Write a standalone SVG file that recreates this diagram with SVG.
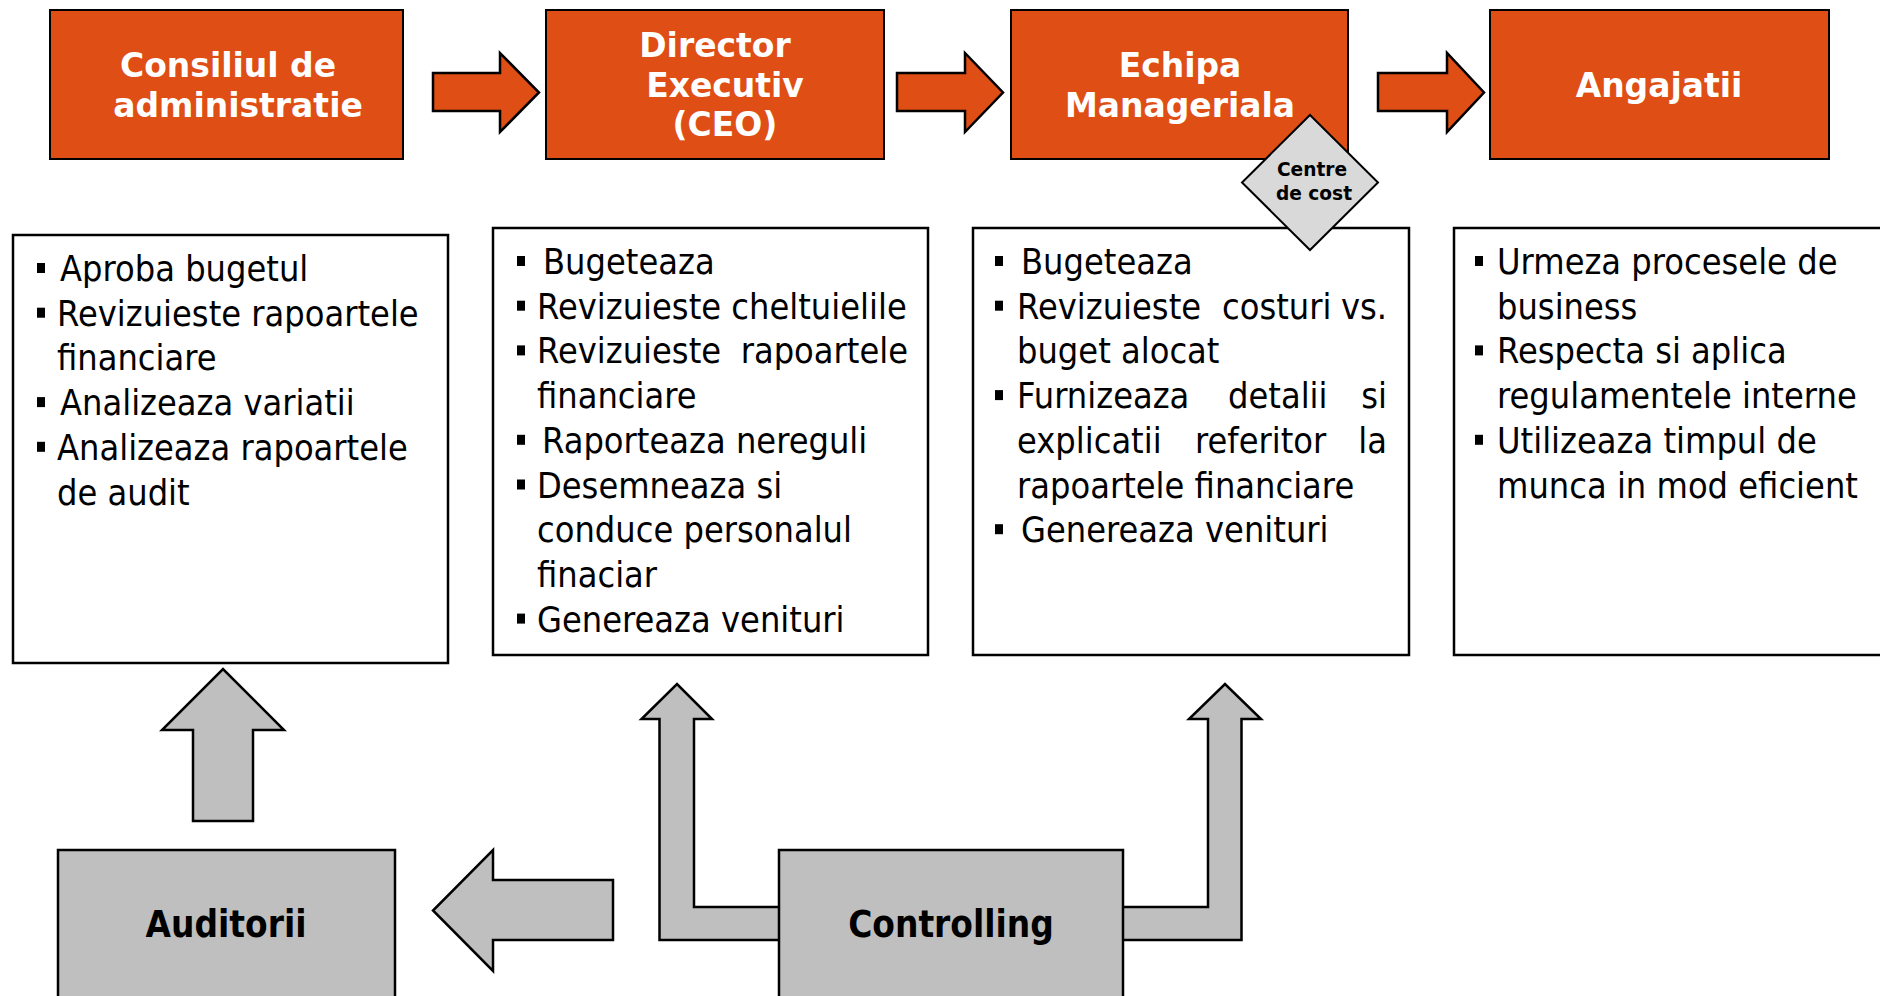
<svg xmlns="http://www.w3.org/2000/svg" width="1880" height="996" viewBox="0 0 1880 996">
<style>
.hdr{fill:#DE4E15;stroke:#000;stroke-width:2}
.htxt{font-family:"DejaVu Sans",Verdana,sans-serif;font-weight:bold;font-size:34px;fill:#fff;text-anchor:middle}
.box{fill:#fff;stroke:#000;stroke-width:2.5}
.txt{font-family:"DejaVu Sans",Verdana,sans-serif;font-size:36px;fill:#000}
.end{text-anchor:end}
.bul{fill:#000}
.oarr{fill:#DE4E15;stroke:#000;stroke-width:2.5;stroke-linejoin:miter}
.garr{fill:#BFBFBF;stroke:#000;stroke-width:2.5}
.gbox{fill:#BFBFBF;stroke:#000;stroke-width:2.5}
.gtxt{font-family:"DejaVu Sans",Verdana,sans-serif;font-weight:bold;font-size:37px;fill:#000;text-anchor:middle}
.dia{fill:#D9D9D9;stroke:#000;stroke-width:2}
.dtxt{font-family:"DejaVu Sans",Verdana,sans-serif;font-weight:bold;font-size:20px;fill:#000;text-anchor:middle}
</style>
<rect width="1880" height="996" fill="#fff"/>

<g id="connectors">
  <path class="oarr" d="M433,73 H500 V53 L539,92.5 L500,132 V111 H433 Z"/>
  <path class="oarr" d="M897,73 H965 V53 L1003,92.5 L965,132 V111 H897 Z"/>
  <path class="oarr" d="M1378,73 H1447 V53 L1484,92.5 L1447,132 V111 H1378 Z"/>
  <path class="garr" d="M193,821 V730 H162 L223,669 L284,730 H253 V821 Z"/>
  <path class="garr" d="M613,880 H493 V850 L433,910.5 L493,971 V940 H613 Z"/>
  <path class="garr" d="M780,907 H694 V719 H712 L677,684 L641.5,719 H659.5 V940 H780 Z"/>
  <path class="garr" d="M1122,907 H1208 V719 H1189 L1225,684 L1261,719 H1241.5 V940 H1122 Z"/>
</g>

<g id="consiliu">
  <rect class="hdr" x="50" y="10" width="353" height="149"/>
  <text class="htxt" transform="translate(228 77) scale(.97 1)">Consiliul de</text>
  <text class="htxt" transform="translate(238 117) scale(.97 1)">administratie</text>
</g>
<g id="director">
  <rect class="hdr" x="546" y="10" width="338" height="149"/>
  <text class="htxt" transform="translate(715 57) scale(.97 1)">Director</text>
  <text class="htxt" transform="translate(725 97) scale(.97 1)">Executiv</text>
  <text class="htxt" transform="translate(725 136) scale(.97 1)">(CEO)</text>
</g>
<g id="echipa">
  <rect class="hdr" x="1011" y="10" width="337" height="149"/>
  <text class="htxt" transform="translate(1180 77) scale(.97 1)">Echipa</text>
  <text class="htxt" transform="translate(1180 117) scale(.97 1)">Manageriala</text>
</g>
<g id="angajatii">
  <rect class="hdr" x="1490" y="10" width="339" height="149"/>
  <text class="htxt" transform="translate(1659 97) scale(.97 1)">Angajatii</text>
</g>

<g id="lista-consiliu">
  <rect class="box" x="13" y="235" width="435" height="428"/>
  <rect class="bul" x="37" y="263" width="8" height="10"/>
  <rect class="bul" x="37" y="307.7" width="8" height="10"/>
  <rect class="bul" x="37" y="397.1" width="8" height="10"/>
  <rect class="bul" x="37" y="441.8" width="8" height="10"/>
  <text class="txt" transform="translate(60 281) scale(.895 1)">Aproba bugetul</text>
  <text class="txt" transform="translate(57 325.7) scale(.895 1)">Revizuieste rapoartele</text>
  <text class="txt" transform="translate(57 370.4) scale(.895 1)">financiare</text>
  <text class="txt" transform="translate(60 415.1) scale(.895 1)">Analizeaza variatii</text>
  <text class="txt" transform="translate(57 459.8) scale(.895 1)">Analizeaza rapoartele</text>
  <text class="txt" transform="translate(57 504.5) scale(.895 1)">de audit</text>
</g>

<g id="lista-director">
  <rect class="box" x="493" y="228" width="435" height="427"/>
  <rect class="bul" x="517" y="256" width="8" height="10"/>
  <rect class="bul" x="517" y="300.7" width="8" height="10"/>
  <rect class="bul" x="517" y="345.4" width="8" height="10"/>
  <rect class="bul" x="517" y="434.8" width="8" height="10"/>
  <rect class="bul" x="517" y="479.5" width="8" height="10"/>
  <rect class="bul" x="517" y="613.6" width="8" height="10"/>
  <text class="txt" transform="translate(543 274) scale(.895 1)">Bugeteaza</text>
  <text class="txt" transform="translate(537 318.7) scale(.895 1)">Revizuieste cheltuielile</text>
  <text class="txt" transform="translate(537 363.4) scale(.895 1)">Revizuieste</text>
  <text class="txt end" transform="translate(908 363.4) scale(.895 1)">rapoartele</text>
  <text class="txt" transform="translate(537 408.1) scale(.895 1)">financiare</text>
  <text class="txt" transform="translate(542 452.8) scale(.895 1)">Raporteaza nereguli</text>
  <text class="txt" transform="translate(537 497.5) scale(.895 1)">Desemneaza si</text>
  <text class="txt" transform="translate(537 542.2) scale(.895 1)">conduce personalul</text>
  <text class="txt" transform="translate(537 586.9) scale(.895 1)">finaciar</text>
  <text class="txt" transform="translate(537 631.6) scale(.895 1)">Genereaza venituri</text>
</g>

<g id="lista-echipa">
  <rect class="box" x="973" y="228" width="436" height="427"/>
  <rect class="bul" x="995" y="256" width="8" height="10"/>
  <rect class="bul" x="995" y="300.7" width="8" height="10"/>
  <rect class="bul" x="995" y="390.1" width="8" height="10"/>
  <rect class="bul" x="995" y="524.2" width="8" height="10"/>
  <text class="txt" transform="translate(1021 274) scale(.895 1)">Bugeteaza</text>
  <text class="txt" transform="translate(1017 318.7) scale(.895 1)">Revizuieste</text>
  <text class="txt" transform="translate(1222 318.7) scale(.895 1)">costuri</text>
  <text class="txt end" transform="translate(1387 318.7) scale(.895 1)">vs.</text>
  <text class="txt" transform="translate(1017 363.4) scale(.895 1)">buget alocat</text>
  <text class="txt" transform="translate(1017 408.1) scale(.895 1)">Furnizeaza</text>
  <text class="txt" transform="translate(1228 408.1) scale(.895 1)">detalii</text>
  <text class="txt end" transform="translate(1387 408.1) scale(.895 1)">si</text>
  <text class="txt" transform="translate(1017 452.8) scale(.895 1)">explicatii</text>
  <text class="txt" transform="translate(1195 452.8) scale(.895 1)">referitor</text>
  <text class="txt end" transform="translate(1387 452.8) scale(.895 1)">la</text>
  <text class="txt" transform="translate(1017 497.5) scale(.895 1)">rapoartele financiare</text>
  <text class="txt" transform="translate(1021 542.2) scale(.895 1)">Genereaza venituri</text>
</g>

<g id="lista-angajatii">
  <rect class="box" x="1454" y="228" width="440" height="427"/>
  <rect class="bul" x="1475" y="256" width="8" height="10"/>
  <rect class="bul" x="1475" y="345.4" width="8" height="10"/>
  <rect class="bul" x="1475" y="434.8" width="8" height="10"/>
  <text class="txt" transform="translate(1497 274) scale(.895 1)">Urmeza procesele de</text>
  <text class="txt" transform="translate(1497 318.7) scale(.895 1)">business</text>
  <text class="txt" transform="translate(1497 363.4) scale(.895 1)">Respecta si aplica</text>
  <text class="txt" transform="translate(1497 408.1) scale(.895 1)">regulamentele interne</text>
  <text class="txt" transform="translate(1497 452.8) scale(.895 1)">Utilizeaza timpul de</text>
  <text class="txt" transform="translate(1497 497.5) scale(.895 1)">munca in mod eficient</text>
</g>

<g id="centre-cost">
  <path class="dia" d="M1310,115 L1378,182.5 L1310,250 L1242,182.5 Z"/>
  <text class="dtxt" transform="translate(1312 176) scale(.93 1)">Centre</text>
  <text class="dtxt" transform="translate(1314 200) scale(.93 1)">de cost</text>
</g>

<g id="auditorii">
  <rect class="gbox" x="58" y="850" width="337" height="160"/>
  <text class="gtxt" transform="translate(226 937) scale(.89 1)">Auditorii</text>
</g>
<g id="controlling">
  <rect class="gbox" x="779" y="850" width="344" height="160"/>
  <text class="gtxt" transform="translate(951 937) scale(.89 1)">Controlling</text>
</g>
</svg>
